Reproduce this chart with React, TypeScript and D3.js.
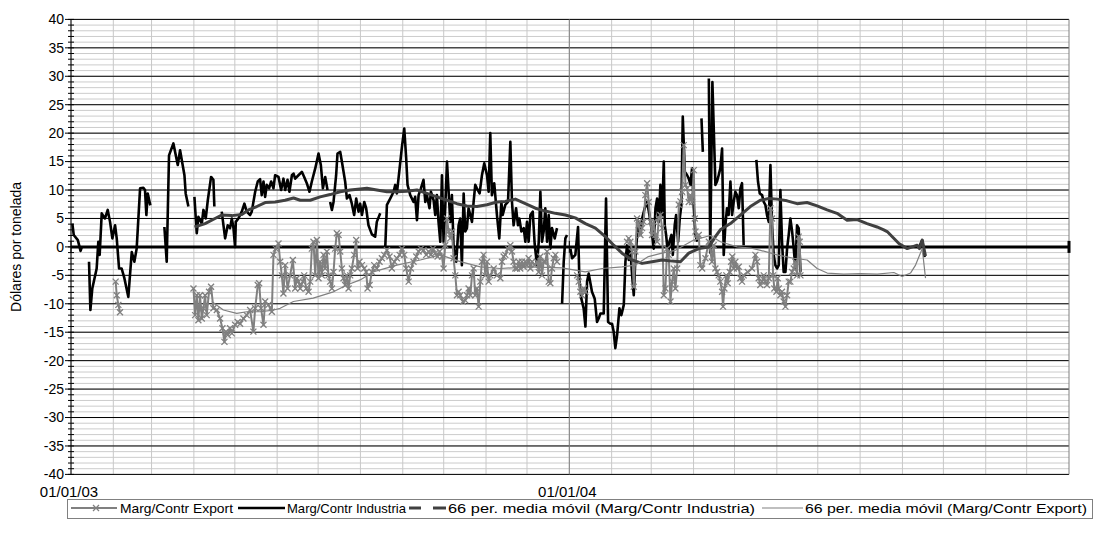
import React from "react";
import * as d3 from "d3";

type Pt = [number, number] | null;

// day offsets from 01/01/03, value in US$/t
const industria: Pt[] = [
[1,4.1],[2,2.1],[5,1.2],[7,-0.7],[8,0],
null,
[13.2,-2.6],[14.2,-11.1],[15.6,-7.3],[18.8,-3.8],[20,0.9],[21,-1.4],[22.5,5.9],[24.9,5.0],[26.9,6.5],[28.6,4.4],[30.3,1.5],[32.3,3.8],[33.5,1.5],[35.2,-3.8],[37.1,-3.8],[39.1,-5.5],[42,-8.8],[44.5,-0.9],[46.4,-2.6],[48.1,-0.3],[50.6,10.3],[53,10.4],[54.2,10.0],[55.2,5.6],[56.2,9.4],[58.1,7.3],
null,
[68.4,3.5],[70.1,-2.6],[71.8,16.1],[75,18.2],[78.2,14.4],[79.9,17.0],[83.1,12.6],[84,9.4],[86,7.1],
null,
[90.4,8.8],[92.1,2.4],[93.3,5.3],[95.8,4.1],[97,6.5],[98.7,5.0],[100.2,8.2],[102.6,12.3],[104.3,11.8],[105,7.1],
null,
[110.4,6.2],[112.9,1.5],[114.8,3.8],[116.5,3.3],[117.8,5.0],[119,3.3],[120.2,0],[120.7,4.4],[122.6,5.0],[125.1,6.2],[127,7.6],[128.7,6.2],[131.2,5.6],[132.4,6.2],[134.9,9.7],[136.8,11.5],[138.5,11.9],[139.7,9.1],[141,11.5],[142.2,8.8],[143.4,10.9],[145.1,10.3],[146.6,11.5],[148.3,10.3],[149.5,12.6],[152,12.3],[153.9,10.0],[155.6,12.0],[156.9,10.0],[158.6,11.8],[160,9.7],[161.8,12.6],[163,12.9],[164.2,12.0],[166.6,12.6],[169.1,13.2],[170.8,12.3],[172.7,11.2],[174.7,9.7],[176.4,11.5],[178.9,13.8],[181.3,16.4],[183,14.4],[184.5,10.3],[186.2,12.3],[187.9,10.0],
null,
[189.8,7.9],[191.1,6.5],[192.3,7.9],[194.2,12.6],[195.2,16.4],[197.2,16.7],[198.4,15.0],[200.8,11.5],[202.1,8.5],[204,9.1],[205.7,7.6],[207.4,5.6],[208.9,8.5],[210.6,6.2],[211.8,7.6],[213.1,5.6],[214.8,7.9],[216.2,6.8],[217.9,3.8],[220.4,2.2],[222.8,1.8],[224,4.4],[226.5,5.9],
null,
[230.2,0],[231.4,7.4],[233.8,8.5],[236.3,9.7],[237.5,10.9],[238.7,9.4],[240.7,13.8],[242.4,17.6],[244.1,20.8],[245.5,15.6],[246.5,10.9],[248.5,9.1],[250.9,7.9],[252.1,8.8],[253.4,4.7],[254.6,9.1],[256.3,10.3],[258.2,11.8],[259.5,7.9],[260.7,9.1],[262.6,6.8],[263.6,9.7],[265.6,8.2],[266.8,5.6],[268,9.1],[269.2,4.4],[270.5,0.9],[271.7,12.6],[272.9,0.9],[274.1,6.8],[275.4,15.0],[276.6,9.7],[277.8,4.4],[279,9.1],[280.2,0.3],[282.2,-2.6],[283.9,3.8],[285.1,5.0],[286.3,-3.2],[287.6,9.4],[288.8,2.7],[290,3.3],[291.2,6.8],[292.5,5.6],[293.7,4.4],[294.9,7.9],[296.1,10.9],[297.3,10.3],[299.3,9.4],[301,12.6],[302.7,14.7],[304.7,12.6],[305.9,9.7],[307.1,20.0],[308.3,9.1],[310,11.2],[312,5.6],[313.7,1.5],[315.2,7.9],[316.2,5.6],[318.1,7.4],[320.1,7.9],[321.8,18.5],[323,7.9],[324.2,3.8],[326,6.8],[327.4,3.8],[328.4,5.0],[329.9,2.7],[331.6,3.3],[332.8,0.9],[334,4.4],[335.2,0.9],[336.5,5.6],[338.2,6.2],[339.6,0.6],[341.3,-3.2],[342.6,0.9],[343.8,9.7],[345,0.9],[346.2,2.7],[347.4,6.8],[348.7,0.9],[349.9,5.6],[351.1,-0.3],[352.3,3.3],[354.3,1.5],[356,3.3],
null,
[359.7,-10.0],[360.9,-2.6],[362.1,1.5],[363.3,2.1],
null,
[365.8,-0.3],[367,-2.0],[369.4,-1.4],[371.4,3.5],[372.4,-6.1],[373.8,-9.1],[375.5,-10.8],[376.8,-14.0],[378,-6.1],[379.2,-4.7],[381.6,-7.9],[383.6,-9.1],[385.3,-13.2],[386.5,-12.6],[387.8,-11.7],[390.2,-11.7],[391.9,8.5],[393.4,-13.2],[395.1,-13.5],[396.3,-13.5],[397.5,-14.9],[398.7,-17.8],[400,-15.5],[401.7,-10.8],[403.1,-12.0],[404.9,-10.2],[406.1,-2.6],[407.3,0.3],[408.5,-2.3],[409.7,-0.3],[411,-5.0],[412.2,-8.5],[413.4,-2.0],[415.4,4.4],[417.1,2.1],[418.3,5.0],[420.2,6.8],[422,7.9],[423.7,5.6],[425.1,3.3],[426.8,-0.3],[428.1,6.8],[429.3,8.5],[430.5,4.4],[431.7,10.9],[433,5.6],[434.2,15.0],[434.9,3.8],[435.9,2.1],[437.3,-1.4],[438.3,0.9],[439.8,2.1],[440.8,-1.4],[442.2,3.8],[443.2,5.6],[444.7,0.9],[445.9,5.0],[447.1,7.4],[448.1,22.9],[449.6,13.2],[451.3,12.6],[452.5,12.0],[453.7,10.9],[454.9,13.8],[456.2,6.8],[457.4,2.1],[458.6,0.9],
null,
[461.8,22.6],[462.8,16.7],
null,
[467.2,29.6],[468.2,-1.0],[469.8,29.0],[472,10.9],[473.2,11.5],[474.4,12.6],[475.6,13.8],[476.9,17.3],[478.1,-1.4],[479.3,3.8],[480.5,6.8],[481.7,5.6],[483,11.5],[484.2,5.6],[485.4,7.9],[486.6,9.7],[487.8,9.1],[489.1,6.8],[490.3,10.3],[491.5,11.2],[492.7,0.3],
null,
[502,15.3],[503.2,11.5],[504.5,9.4],[506.2,9.1],[507.4,7.9],[508.6,7.4],[509.8,5.6],[511.1,4.4],[512.3,14.4],[513.5,3.8],[514.7,-1.4],[515.9,-3.2],[517.2,-3.8],[518.4,-3.2],[519.6,10.0],[520.8,0.9],[522,-4.4],[523.3,-4.4],[524.5,-0.3],[525.7,2.1],[526.9,5.0],[528.2,2.7],[529.4,-0.3],[530.6,-3.8],[531.8,3.8],[533,3.3],[534.3,-4.4],
null,
[620.8,-0.3],[623.5,1.2],[625.2,-1.8],
];

const exportSeries: Pt[] = [
[32.7,-6.1],[33.5,-8.5],[34.7,-10.2],[35.9,-11.5],
null,
[89.7,-7.3],[90.9,-12.0],[92.1,-8.5],[93.3,-12.9],[94.5,-8.5],[95.8,-12.6],[97,-10.8],[98.2,-8.5],[99.4,-12.0],[101.1,-7.9],[102.6,-7.0],[104.3,-10.8],[106.8,-11.1],[109.2,-12.6],[110.9,-14.3],[112.4,-16.7],[113.4,-14.9],[114.8,-15.5],[116.5,-14.3],[117.8,-15.2],[120.2,-13.7],[122.1,-13.2],[123.9,-13.5],[126.3,-12.6],[128.7,-12.0],[131.2,-11.1],[133.6,-14.9],[134.9,-10.8],[136.8,-6.7],[137.8,-6.4],[139.2,-10.8],[141,-13.7],[142.2,-9.6],[144.6,-10.2],[147.1,-11.4],[148.3,-1.4],[150,-0.3],[152,0.6],[153.2,-2.6],[154.4,-5.0],[155.6,-8.2],[156.9,-3.2],[158.6,-7.3],[160.5,-5.0],[162.5,-2.3],[164.2,-7.3],[165.4,-5.5],[166.6,-6.1],[167.9,-7.3],[169.8,-6.1],[170.8,-5.0],[172.3,-7.3],[174,-7.9],[175.2,-6.1],[176.4,-0.3],[177.6,0.9],[178.9,-5.0],[180.1,1.2],[181.3,-5.5],[182.5,-2.6],[183.7,-5.0],[185,-1.4],[186.2,-3.8],[187.4,-0.8],[188.6,-5.0],[189.8,-6.1],[191.1,-7.3],[192.3,-4.4],[193.5,-0.3],[194.7,2.4],[196,2.1],[197.2,-0.8],[198.4,-3.8],[199.6,-5.5],[200.8,-6.7],[202.1,-5.0],[203.3,-7.3],[204.5,-5.0],[205.7,-3.8],[207.4,-1.4],[208.9,1.2],[209.9,-3.8],[211.3,-2.6],[213.1,-3.2],[214.8,-3.8],[216.2,-4.4],[217.2,-7.3],[218.7,-6.7],[220.4,-4.4],[222.1,-3.2],[224,-3.8],[226,-2.6],[227.7,-2.0],[229.4,-1.4],[231.4,-0.6],[233.3,-1.7],[235,-3.8],[236.8,-2.6],[238.7,-2.0],[240.7,-1.4],[242.4,-0.3],[244.1,-1.4],[245.5,-3.8],[247.3,-6.1],[249,-3.8],[250.9,-2.6],[252.9,-1.7],[254.6,-0.8],[256.3,-0.3],[258.2,-0.6],[260.2,-1.4],[261.9,-0.8],[263.6,-1.4],[265.1,-0.3],[266.8,-1.1],[268.5,-1.7],[270,-0.8],[271.7,-1.7],[272.9,-3.8],[274.1,0.3],[275.4,5.0],[276.6,2.7],[277.8,1.5],[279,2.7],[280.2,-2.0],[281.5,-5.0],[282.7,-8.5],[283.9,-7.9],[285.1,-8.5],[287.1,-9.6],[288.8,-9.4],[290,-8.5],[291.2,-7.3],[292.5,-8.5],[293.7,-5.0],[294.9,-3.8],[296.1,-8.5],[297.3,-7.3],[298.6,-10.5],[299.8,-6.1],[301,-2.6],[302.2,-1.4],[303.5,-5.0],[304.7,-2.6],[305.9,-6.1],[307.1,-5.0],[309.6,-3.8],[312,-5.0],[314.5,-5.5],[315.7,-2.6],[316.9,-1.7],[318.1,-1.4],[320.1,-0.3],[321.8,0.3],[323,-0.8],[324.2,-2.6],[325.5,-3.8],[326.7,-3.8],[327.9,-2.6],[329.1,-3.8],[330.3,-2.6],[331.6,-3.5],[332.8,-2.6],[334,-3.2],[335.2,-2.0],[336.5,-3.8],[337.7,-2.6],[339.6,-3.2],[341.3,-2.6],[342.6,-4.4],[343.8,-1.7],[345,-5.0],[346.2,-2.6],[347.4,-2.6],[348.7,-0.8],[349.9,-6.1],[351.1,-6.4],[352.3,-3.8],[353.6,-2.0],[354.8,-1.4],[356,-2.6],
null,
[370.7,-5.0],[371.9,-6.1],[373.1,-7.9],[374.3,-8.5],[375.5,-7.3],[376.8,-7.9],
null,
[407.3,0.9],[408.5,1.5],[409.7,0.9],[411,-0.8],[412.2,-7.0],[413.4,-0.8],[414.6,5.0],[415.8,3.8],[417.1,2.1],[418.3,3.3],[419.5,4.4],[420.7,9.1],[422,11.2],[423.2,7.9],[424.4,4.4],[425.6,2.1],[426.8,4.4],[428.1,2.1],[429.3,0.9],[430.5,5.0],[431.7,5.6],[433,3.3],[434.2,-8.5],[435.4,-7.3],[436.6,-0.3],[437.8,-1.4],[439.1,-9.6],[440.3,-6.1],[441.5,-3.8],[442.7,-7.3],[444,-3.8],[445.2,7.4],[446.4,8.0],[447.6,9.7],[448.8,17.9],[450.1,10.9],[451.3,10.3],[452.5,7.9],[453.7,9.1],[454.9,7.9],[456.2,13.5],[456.9,5.0],[457.4,2.7],[458.6,1.5],[459.8,2.1],[461,-3.2],[462.3,-3.8],[464.7,-2.0],[467.2,0.9],[469.5,-2.6],[470.7,0.3],[472,-3.8],[473.2,-4.4],[474.4,-5.0],[475.6,-6.1],[476.9,-7.9],[477.6,-10.5],[478.6,-7.3],[480,-5.0],[481,-6.4],[482.5,-4.4],[483.5,-2.6],[484.4,-1.7],[485.4,-3.8],[486.6,-2.6],[487.8,-3.8],[489.1,-3.5],[490.3,-5.5],[491.5,-6.1],[492.7,-5.0],[495.7,-4.4],[498.8,-3.8],[501.3,-1.4],[502.5,-2.6],[503.7,-5.5],[504.9,-6.7],[506.2,-6.1],[507.4,-5.0],[508.6,-6.1],[509.8,-6.7],[511.1,-5.5],[512.3,6.8],[513.5,5.0],[514.2,-5.0],[515.2,-7.3],[516.7,-7.9],[517.6,-5.5],[518.4,-7.3],[519.6,-8.5],[520.8,-7.9],[522,-9.6],[523.3,-10.5],[524.5,-8.5],[525.7,-6.1],[526.9,-6.1],[528.2,-4.4],[529.4,-3.8],[530.6,-2.6],[531.8,-5.0],[533,1.8],[533.8,0.9],[534.3,-5.0],
];

const maIndustria: [number, number][] = [
[90.4,3.5],[98.2,4.1],[105.5,5.0],[110.4,5.6],[117.8,5.5],[125.1,5.7],[130,6.5],[136.1,7.1],[142.2,7.8],[149.5,7.9],[156.8,8.2],[163,8.6],[167.9,8.2],[175.2,8.2],[182.5,8.8],[189.8,9.2],[197.2,9.7],[204.5,10.0],[211.8,10.2],[216.7,10.3],[224,10.0],[231.4,9.7],[238.7,9.7],[246,9.8],[253.4,10.0],[260.7,9.4],[268,8.8],[275.4,8.2],[282.7,7.6],[290,7.2],[297.3,7.1],[304.7,7.4],[312,7.9],[318.1,8.0],[325.5,8.4],[332.8,7.6],[340.1,6.8],[347.4,6.3],[354.8,5.9],[362.1,5.6],[369.4,5.1],[376.8,4.1],[384.1,3.3],[391.4,1.8],[397.5,0.3],[403.6,-1.1],[411,-2.3],[418.3,-2.9],[425.6,-2.6],[433,-2.3],[440.3,-2.5],[446.4,-2.6],[452.5,-1.1],[459.8,-0.3],[467.2,0.0],[472,1.8],[475.6,3.0],[483,4.1],[490.3,5.6],[497.6,7.1],[504.9,8.2],[511.1,8.5],[517.2,8.4],[524.5,8.1],[531.8,7.6],[539.1,7.8],[546.5,7.2],[553.8,6.5],[561.1,5.9],[568.5,4.7],[575.8,4.8],[583.1,4.1],[590.4,3.5],[595.3,3.0],[597.8,2.7],[606.4,0.6],[612.5,-0.3],[619.8,0.3],[621.5,-0.3],[623.5,1.2],[625.9,-1.6],
];

const maExport: [number, number][] = [
[103.1,-9.6],[111.6,-11.1],[121.4,-11.7],[128.8,-11.4],[138.5,-11.4],[148.3,-11.1],[153.2,-10.8],[162.9,-9.6],[177.4,-9.0],[192.2,-7.9],[202.1,-6.7],[211.8,-5.8],[221.3,-4.4],[238.7,-3.2],[255.8,-2.3],[270.5,-1.4],[285.1,-2.6],[299.8,-3.5],[314.4,-3.8],[334.9,-3.5],[359.6,-3.7],[376.7,-4.4],[389,-3.8],[403.6,-3.5],[413.4,-3.2],[422.9,-1.7],[432.9,-1.1],[442.7,-0.6],[456.1,1.2],[468.3,2.0],[475.7,0.9],[487.9,0.0],[497.7,-0.2],[505,-0.6],[517.2,-1.4],[529.4,-2.0],[539.2,-2.3],[546.5,-3.8],[553.9,-4.6],[566,-4.8],[578.3,-4.7],[590.5,-4.8],[602.7,-4.5],[608.8,-5.2],[614.9,-4.6],[618.6,-3.2],[623.5,-0.3],[625.9,-5.5],
];

const yTicks = d3.range(-40, 41, 5);
const yMinor = d3.range(-40, 41, 1);
const legendLabels = [
  "Marg/Contr Export",
  "Marg/Contr Industria",
  "66 per. media móvil (Marg/Contr Industria)",
  "66 per. media móvil (Marg/Contr Export)",
];

const FONT = "Arial, 'Liberation Sans', sans-serif";
const W = 1097, H = 544;
const PL = 71, PR = 1069, PT = 19.4, PB = 474.4;
const start = new Date(Date.UTC(2003, 0, 1));
const end = new Date(Date.UTC(2005, 0, 1));
const toDate = (d: number) => new Date(start.getTime() + d * 86400000);

export default function App() {
  const x = d3.scaleUtc().domain([start, end]).range([PL, PR]);
  const y = d3.scaleLinear().domain([-40, 40]).range([PB, PT]);
  const line = d3
    .line<Pt>()
    .defined((p) => p !== null)
    .x((p) => x(toDate((p as [number, number])[0])))
    .y((p) => y((p as [number, number])[1]));
  const maLine = d3
    .line<[number, number]>()
    .x((p) => x(toDate(p[0])))
    .y((p) => y(p[1]));
  const months = d3.utcMonth.range(start, end);
  const years = d3.utcYear.range(start, new Date(Date.UTC(2005, 0, 2)));
  const fmt = d3.utcFormat("%d/%m/%y");
  const y0 = y(0);
  const mk = 3;
  const exportPts = exportSeries.filter((p) => p !== null) as [number, number][];

  const legY = 508;
  const legT = 513;
  return (
    <svg
      width={W}
      height={H}
      style={{ position: "absolute", left: 0, top: 0, background: "#fff" }}
      fontFamily={FONT}
    >
      {yMinor.map((v) => (
        <line key={"hm" + v} x1={PL} x2={PR} y1={y(v)} y2={y(v)} stroke="#cccccc" strokeWidth={1} />
      ))}
      {months.map((m) => (
        <line key={"vm" + m.getTime()} x1={x(m)} x2={x(m)} y1={PT} y2={PB} stroke="#c8c8c8" strokeWidth={1} />
      ))}
      {yTicks.map((v) => (
        <line key={"hM" + v} x1={PL} x2={PR} y1={y(v)} y2={y(v)} stroke="#000" strokeWidth={1} />
      ))}
      {years.slice(1).map((m) => (
        <line key={"vM" + m.getTime()} x1={x(m)} x2={x(m)} y1={PT} y2={PB} stroke="#808080" strokeWidth={1} />
      ))}
      <line x1={PL} x2={PL} y1={PT} y2={PB} stroke="#000" strokeWidth={1} />
      {yMinor.map((v) => (
        <line key={"tm" + v} x1={PL - 3} x2={PL + 3} y1={y(v)} y2={y(v)} stroke="#000" strokeWidth={1} />
      ))}
      {yTicks.map((v) => (
        <line key={"tM" + v} x1={PL - 6} x2={PL} y1={y(v)} y2={y(v)} stroke="#000" strokeWidth={1} />
      ))}
      {yTicks.map((v) => (
        <text key={"yl" + v} x={PL - 7} y={y(v)} dy="0.35em" textAnchor="end" fontSize={14} fill="#000">
          {v}
        </text>
      ))}
      <text
        transform={`translate(21,${(PT + PB) / 2}) rotate(-90)`}
        textAnchor="middle"
        fontSize={14}
        fill="#000"
      >
        Dólares por tonelada
      </text>
      <line x1={PL} x2={PR} y1={y0} y2={y0} stroke="#000" strokeWidth={3} />
      {years.map((m) => (
        <line key={"xt" + m.getTime()} x1={x(m)} x2={x(m)} y1={y0 - 6} y2={y0 + 6} stroke="#000" strokeWidth={m.getTime() === end.getTime() ? 3 : 1} />
      ))}
      {years.slice(0, 2).map((m) => (
        <text key={"xl" + m.getTime()} x={x(m) - 2} y={497} textAnchor="middle" fontSize={15} fill="#000">
          {fmt(m)}
        </text>
      ))}

      <path d={line(industria) || ""} fill="none" stroke="#000" strokeWidth={2.6} strokeLinejoin="round" />
      <path d={line(exportSeries) || ""} fill="none" stroke="#808080" strokeWidth={2} strokeLinejoin="round" />
      {exportPts.map((p, i) => {
        const cx = x(toDate(p[0]));
        const cy = y(p[1]);
        return (
          <path
            key={"m" + i}
            d={`M${cx - mk},${cy - mk}L${cx + mk},${cy + mk}M${cx - mk},${cy + mk}L${cx + mk},${cy - mk}`}
            stroke="#808080"
            strokeWidth={1.3}
            fill="none"
          />
        );
      })}
      <path d={maLine(maIndustria) || ""} fill="none" stroke="#404040" strokeWidth={3} strokeLinejoin="round" />
      <path d={maLine(maExport) || ""} fill="none" stroke="#808080" strokeWidth={1.2} strokeLinejoin="round" />

      <rect x={67.5} y={499.5} width={1025} height={19} fill="#fff" stroke="#808080" strokeWidth={1} />
      <line x1={71} x2={117} y1={legY} y2={legY} stroke="#808080" strokeWidth={2} />
      <path d={`M${96 - mk},${legY - mk}L${96 + mk},${legY + mk}M${96 - mk},${legY + mk}L${96 + mk},${legY - mk}`} stroke="#808080" strokeWidth={1.3} />
      <text x={120} y={legT} fontSize={13.5} fill="#000" textLength={113} lengthAdjust="spacingAndGlyphs">{legendLabels[0]}</text>
      <line x1={238} x2={285} y1={legY} y2={legY} stroke="#000" strokeWidth={2.6} />
      <text x={287} y={legT} fontSize={13.5} fill="#000" textLength={119} lengthAdjust="spacingAndGlyphs">{legendLabels[1]}</text>
      <line x1={409} x2={421} y1={legY} y2={legY} stroke="#404040" strokeWidth={3} />
      <line x1={433} x2={446} y1={legY} y2={legY} stroke="#404040" strokeWidth={3} />
      <text x={448} y={legT} fontSize={13.5} fill="#000" textLength={307} lengthAdjust="spacingAndGlyphs">{legendLabels[2]}</text>
      <line x1={762} x2={803} y1={legY} y2={legY} stroke="#808080" strokeWidth={1.2} />
      <text x={805} y={legT} fontSize={13.5} fill="#000" textLength={282} lengthAdjust="spacingAndGlyphs">{legendLabels[3]}</text>
    </svg>
  );
}
